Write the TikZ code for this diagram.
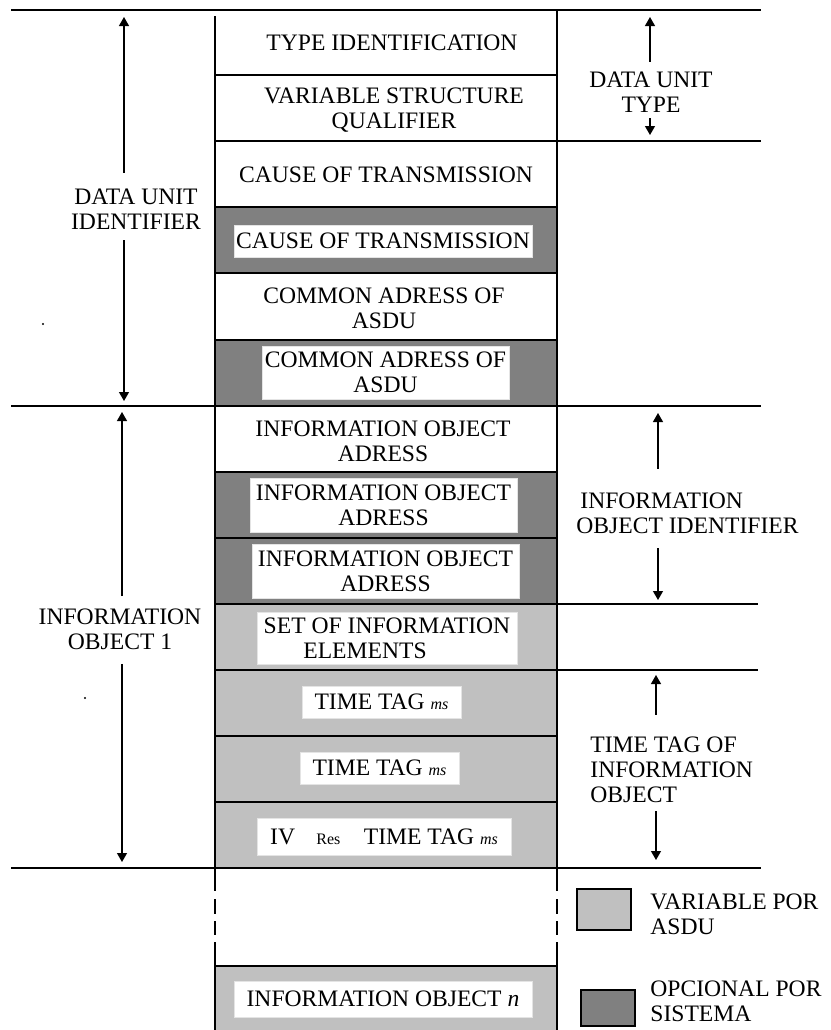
\documentclass[tikz,border=0pt]{standalone}
\usepackage{fontspec}
\setmainfont{Liberation Serif}
\usetikzlibrary{arrows.meta}
\definecolor{optgray}{HTML}{808080}
\definecolor{vargray}{HTML}{C0C0C0}
\definecolor{panelrim}{HTML}{E4E4E4}

\begin{document}
\begin{tikzpicture}[x=0.5pt,y=-0.5pt,
  every node/.style={font=\fontsize{11.8}{12.5}\selectfont, inner sep=0pt, align=center},
  rule/.style={line width=0.75pt, line cap=rect},
  arr/.style={-{Triangle[width=5pt,length=4.5pt]}, line width=0.6pt},
  panel/.style={fill=white, draw=panelrim, line width=0.4pt},
  brk/.style={line width=0.75pt, dash pattern=on 11pt off 4pt on 7.5pt off 3.5pt on 7pt off 3.5pt on 12pt off 20pt},
  legendbox/.style={draw=black, line width=0.75pt}]
\useasboundingbox (0,0) rectangle (831,1030);

% ---- row fills ----
\fill[optgray] (215,207) rectangle (557,273);
\fill[optgray] (215,340) rectangle (557,406);
\fill[optgray] (215,472) rectangle (557,604);
\fill[vargray] (215,604) rectangle (557,868);
\fill[vargray] (215,966) rectangle (557,1030);

% ---- horizontal rules ----
\draw[rule] (12,10) -- (760,10);
\draw[rule] (215,75) -- (557,75);
\draw[rule] (215,141) -- (760,141);
\draw[rule] (215,207) -- (557,207);
\draw[rule] (215,273) -- (557,273);
\draw[rule] (215,340) -- (557,340);
\draw[rule] (12,406) -- (760,406);
\draw[rule] (215,472) -- (557,472);
\draw[rule] (215,538) -- (557,538);
\draw[rule] (215,604) -- (757,604);
\draw[rule] (215,670) -- (757,670);
\draw[rule] (215,736) -- (557,736);
\draw[rule] (215,802) -- (557,802);
\draw[rule] (12,868) -- (760,868);
\draw[rule] (215,966) -- (557,966);

% ---- column sides ----
\draw[rule] (215,17) -- (215,868);
\draw[rule] (557,10) -- (557,868);
\draw[brk] (215,869) -- (215,966);
\draw[brk] (557,869) -- (557,966);
\draw[rule] (215,966) -- (215,1030);
\draw[rule] (557,966) -- (557,1030);

% ---- field texts ----
\node (ti)  at (392,43)  {TYPE IDENTIFICATION};
\node (vsq) at (394,110) {VARIABLE STRUCTURE\\QUALIFIER};
\node (cot) at (386,175) {CAUSE OF TRANSMISSION};
\node[panel, minimum width=149pt, minimum height=16pt] (cot2) at (383,241) {CAUSE OF TRANSMISSION};
\node (ca)  at (384,308) {COMMON ADRESS OF\\ASDU};
\node[panel, minimum width=123.5pt, minimum height=26.5pt] (ca2) at (385.5,372.5) {COMMON ADRESS OF\\ASDU};
\node (ioa) at (383,441) {INFORMATION OBJECT\\ADRESS};
\node[panel, minimum width=133.5pt, minimum height=27pt] (ioa2) at (383.5,505) {INFORMATION OBJECT\\ADRESS};
\node[panel, minimum width=133.5pt, minimum height=27pt] (ioa3) at (385.5,571) {INFORMATION OBJECT\\ADRESS};
\node[panel, minimum width=130pt, minimum height=26pt] (soie) at (387,638) {SET OF INFORMATION\\ELEMENTS\hspace*{22pt}};
\node[panel, minimum width=79.5pt, minimum height=16pt] (tt1) at (381.5,702) {TIME TAG {\footnotesize\itshape ms}};
\node[panel, minimum width=79.5pt, minimum height=16pt] (tt2) at (379.5,768) {TIME TAG {\footnotesize\itshape ms}};
\node[panel, minimum width=127pt, minimum height=18.5pt] (tt3) at (384,836.5) {IV\hspace{0.9em}{\footnotesize Res}\hspace{1em}TIME TAG {\footnotesize\itshape ms}};
\node[panel, minimum width=149pt, minimum height=18pt] (ion) at (383,999) {INFORMATION OBJECT {\itshape n}};

% ---- left brackets ----
\node (dui) at (136,209.5) {DATA UNIT\\IDENTIFIER};
\coordinate (duiTop) at (124,17);
\coordinate (duiBot) at (124,401);
\draw[arr] ([yshift=8pt]dui.north -| duiTop) -- (duiTop);
\draw[arr] ([yshift=-5pt]dui.south -| duiBot) -- (duiBot);

\node (io1) at (120,629) {INFORMATION\\OBJECT 1};
\coordinate (io1Top) at (122,412);
\coordinate (io1Bot) at (122,862);
\draw[arr] ([yshift=6pt]io1.north -| io1Top) -- (io1Top);
\draw[arr] ([yshift=-7pt]io1.south -| io1Bot) -- (io1Bot);

\fill (43,324) circle (0.6pt);
\fill (85,698) circle (0.6pt);

% ---- right brackets ----
\node (dut) at (651,92.5) {DATA UNIT\\TYPE};
\coordinate (dutTop) at (650,17);
\coordinate (dutBot) at (650,135);
\draw[arr] ([yshift=5pt]dut.north -| dutTop) -- (dutTop);
\draw[arr] ([yshift=-2.5pt]dut.south -| dutBot) -- (dutBot);

\node[align=left, anchor=west] (ioi) at (576,513.5) {\hspace*{2pt}INFORMATION\\OBJECT IDENTIFIER};
\coordinate (ioiTop) at (658,413);
\coordinate (ioiBot) at (658,600);
\draw[arr] ([yshift=12pt]ioi.north -| ioiTop) -- (ioiTop);
\draw[arr] ([yshift=-7pt]ioi.south -| ioiBot) -- (ioiBot);

\node[align=left, anchor=west] (ttio) at (590,770) {TIME TAG OF\\INFORMATION\\OBJECT};
\coordinate (ttioTop) at (656,675);
\coordinate (ttioBot) at (656,860);
\draw[arr] ([yshift=11pt]ttio.north -| ttioTop) -- (ttioTop);
\draw[arr] ([yshift=-4pt]ttio.south -| ttioBot) -- (ttioBot);

% ---- legend ----
\draw[legendbox, fill=vargray] (577,889) rectangle (631,930);
\node[align=left, anchor=west] (lvar) at (650,914.5) {VARIABLE POR\\ASDU};
\draw[legendbox, fill=optgray] (581,990) rectangle (635,1026);
\node[align=left, anchor=west] (lopt) at (650,1001) {OPCIONAL POR\\SISTEMA};
\end{tikzpicture}
\end{document}
